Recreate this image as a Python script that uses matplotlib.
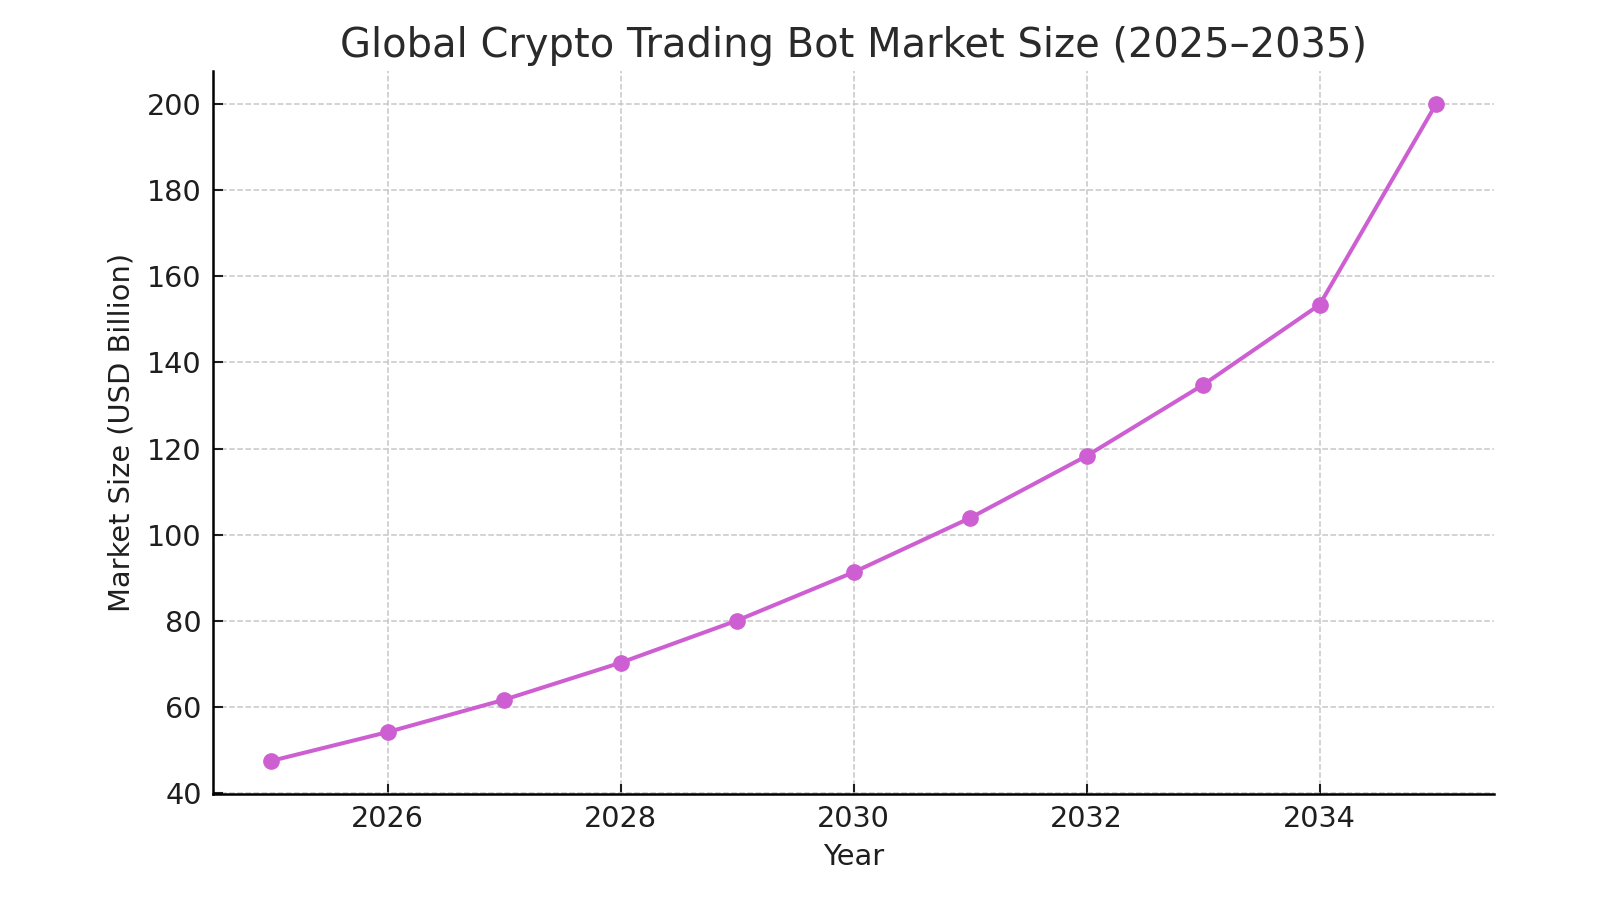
import matplotlib.pyplot as plt

# Market size data (USD billion)
years = [2025, 2026, 2027, 2028, 2029, 2030, 2031, 2032, 2033, 2034, 2035]
market_size = [47.5, 54.2, 61.7, 70.3, 80.1, 91.3, 103.9, 118.3, 134.8, 153.4, 200.0]

line_color = "#cd5fd3"

fig, ax = plt.subplots(figsize=(16, 9), dpi=100)
fig.subplots_adjust(left=0.133, right=0.934, top=0.921, bottom=0.118)

ax.plot(years, market_size, marker="o", color=line_color, linewidth=2.9, markersize=11)

ax.set_title("Global Crypto Trading Bot Market Size (2025–2035)", fontsize=28.8, color="#2a2a2a", pad=10)
ax.set_xlabel("Year", fontsize=20.8, color="#1e1e1e", labelpad=7)
ax.set_ylabel("Market Size (USD Billion)", fontsize=20.8, color="#1e1e1e", labelpad=8)

ax.grid(True, linestyle="--", color="#c8c8c8", linewidth=1.1)
ax.set_axisbelow(True)
ax.spines["top"].set_visible(False)
ax.spines["right"].set_visible(False)
ax.spines["left"].set_linewidth(1.8)
ax.spines["bottom"].set_linewidth(1.8)
ax.tick_params(direction="in", labelsize=20.6, length=7, width=1.5, pad=8, colors="#1e1e1e")

fig.savefig("out.png")
